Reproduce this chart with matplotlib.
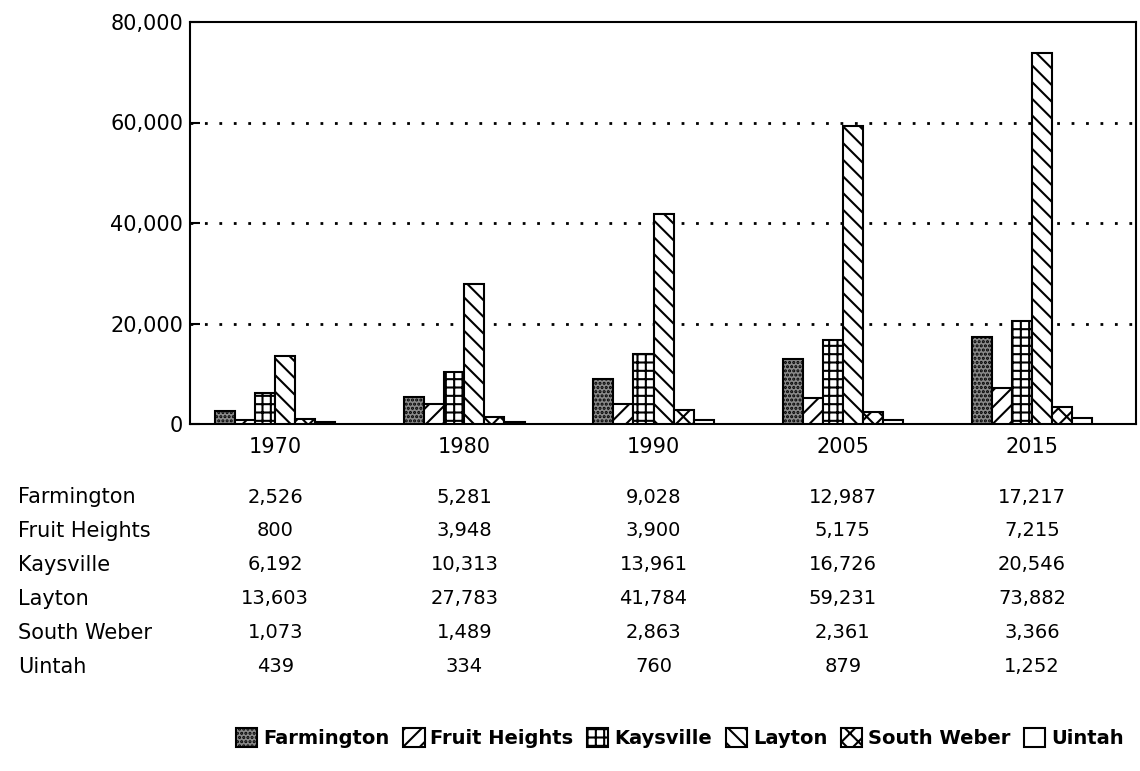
import matplotlib
matplotlib.use("Agg")
import matplotlib.pyplot as plt
from matplotlib.patches import Patch
import matplotlib.transforms as mtransforms

years = ["1970", "1980", "1990", "2005", "2015"]
cities = ["Farmington", "Fruit Heights", "Kaysville", "Layton", "South Weber", "Uintah"]
farmington = [2526, 5281, 9028, 12987, 17217]
fruit_heights = [800, 3948, 3900, 5175, 7215]
kaysville = [6192, 10313, 13961, 16726, 20546]
layton = [13603, 27783, 41784, 59231, 73882]
south_weber = [1073, 1489, 2863, 2361, 3366]
uintah = [439, 334, 760, 879, 1252]
series = [farmington, fruit_heights, kaysville, layton, south_weber, uintah]
yticks = [0, 20000, 40000, 60000, 80000]

styles = [
    dict(facecolor="#8a8a8a", hatch="...."),
    dict(facecolor="white", hatch="//"),
    dict(facecolor="white", hatch="++"),
    dict(facecolor="white", hatch="\\\\"),
    dict(facecolor="white", hatch="xx"),
    dict(facecolor="white", hatch=""),
]

plt.rcParams["font.family"] = ["DejaVu Sans"]
plt.rcParams["hatch.linewidth"] = 1.5

W, H = 1140, 771
fig = plt.figure(figsize=(W / 100, H / 100), dpi=100)
ax = fig.add_axes([190 / W, 1 - 424 / H, (1136 - 190) / W, (424 - 22) / H])

bw = 0.106
n = len(series)
for i, vals in enumerate(series):
    xs = [g + (i - (n - 1) / 2) * bw for g in range(len(years))]
    ax.bar(xs, vals, width=bw, edgecolor="black", linewidth=1.5, zorder=3, **styles[i])

ax.set_xlim(-0.45, len(years) - 0.45)
ax.set_ylim(0, 80000)
ax.set_yticks(yticks)
ax.set_yticklabels([f"{v:,}" for v in yticks], fontsize=15)
ax.set_xticks(range(len(years)))
ax.set_xticklabels(years, fontsize=15)
ax.tick_params(axis="x", length=0, pad=9)
ax.tick_params(axis="y", direction="in", length=7, width=1.5, pad=5)
for y in yticks[1:-1]:
    ax.axhline(y, color="black", linewidth=2, linestyle=(0, (1, 4.2)), zorder=1)
for s in ax.spines.values():
    s.set_linewidth(1.5)

# data table below
trans = mtransforms.blended_transform_factory(ax.transData, fig.transFigure)
row_y = [497, 531, 565, 599, 633, 667]
for r, (name, vals) in enumerate(zip(cities, series)):
    fy = 1 - row_y[r] / H
    fig.text(18 / W, fy, name, fontsize=15, ha="left", va="center")
    for g, v in enumerate(vals):
        ax.text(g, fy, f"{v:,}", transform=trans, fontsize=14, ha="center", va="center", clip_on=False)

handles = [Patch(edgecolor="black", linewidth=1.5, **styles[i]) for i in range(n)]
fig.legend(handles, cities, loc="center", bbox_to_anchor=(680 / W, 1 - 738 / H), ncol=6,
           frameon=False, handlelength=1.1, handleheight=1.1, handletextpad=0.3,
           columnspacing=0.7, prop=dict(size=14, weight="bold"))

fig.savefig("out.png", dpi=100)
